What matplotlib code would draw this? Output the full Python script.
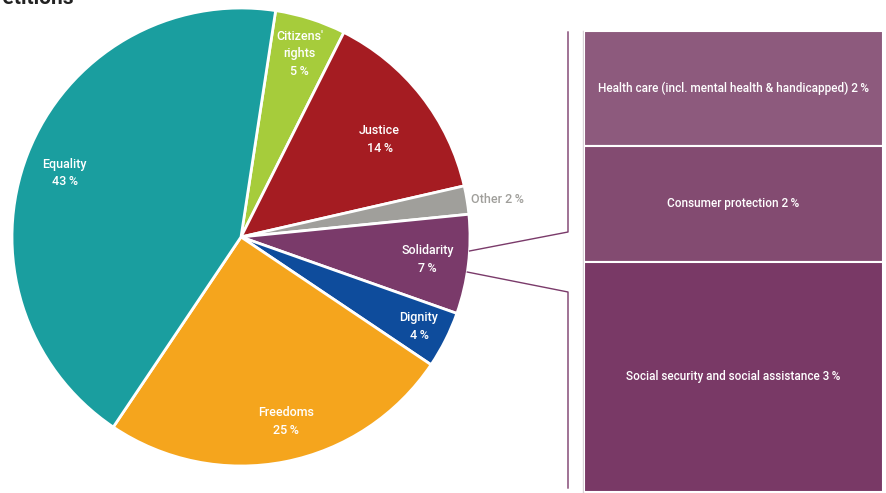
import numpy as np
import matplotlib.pyplot as plt

# Datos
categorias = ["Citizens'\nrights", "Justice", "Other", "Solidarity", "Dignity", "Freedoms", "Equality"]
valores = [5, 14, 2, 7, 4, 25, 43]
colores = ["#A6CC3B", "#A51C22", "#A09F9B", "#7A3A6A", "#0E4C9C", "#F5A51D", "#1A9E9F"]

# Desglose de Solidarity
sub_categorias = ["Health care (incl. mental health & handicapped)", "Consumer protection",
                  "Social security and social assistance"]
sub_valores = [2, 2, 3]
sub_alturas = [1, 1, 2]   # alturas relativas de las cajas en la imagen
sub_colores = ["#8D5A7D", "#834B71", "#793966"]

W, H = 886, 493
plt.rcParams["font.family"] = ["Roboto", "DejaVu Sans"]

fig = plt.figure(figsize=(W / 100, H / 100), dpi=100)
ax = fig.add_axes([0, 0, 1, 1])

centro = (241, H - 237)
radio = 229
wedges, _ = ax.pie(valores, colors=colores, startangle=81.3, counterclock=False,
                   center=centro, radius=radio,
                   wedgeprops=dict(edgecolor="white", linewidth=2))
ax.set_xlim(0, W)
ax.set_ylim(0, H)
ax.set_aspect("equal")
ax.axis("off")

# etiquetas dentro de cada porcion (distancia y ajuste de angulo)
dist = [0.84, 0.74, 1.13, 0.82, 0.87, 0.83, 0.82]
ajuste = [0, -3, -1, 0, 0, 2.5, 1.3]
for w, cat, v, d, da in zip(wedges, categorias, valores, dist, ajuste):
    ang = np.deg2rad((w.theta1 + w.theta2) / 2 + da)
    x = centro[0] + d * radio * np.cos(ang)
    y = centro[1] + d * radio * np.sin(ang)
    if cat == "Other":
        ax.text(x, y, f"{cat} {v}\u2009%", color="#A09F9B", ha="center", va="center",
                fontsize=9, fontweight="medium")
    else:
        ax.text(x, y, f"{cat}\n{v}\u2009%", color="white", ha="center", va="center",
                fontsize=9, fontweight="medium", linespacing=1.45)

# lineas de conexion hacia las cajas
lc = "#7A3A6A"
for a, (xb, yb, yend) in zip([-3.5, -8.8], [(568, H - 232, H - 32), (568, H - 292, H - 488)]):
    xa = centro[0] + radio * np.cos(np.deg2rad(a))
    ya = centro[1] + radio * np.sin(np.deg2rad(a))
    ax.plot([xa, xb, xb], [ya, yb, yend], color=lc, linewidth=1)

# cajas del desglose
box_top, box_bottom = 31, 492
ax2 = fig.add_axes([584 / W, (H - box_bottom) / H, 299 / W, (box_bottom - box_top) / H])
total = sum(sub_alturas)
base = 0
for cat, v, h, c in zip(sub_categorias, sub_valores, sub_alturas, sub_colores):
    ax2.bar(0.5, h, bottom=base, width=1, color=c, edgecolor="white", linewidth=1.5)
    ax2.text(0.5, base + h / 2, f"{cat} {v}\u2009%", color="white", ha="center", va="center",
             fontsize=8.5, fontweight="medium")
    base += h
ax2.set_xlim(0, 1)
ax2.set_ylim(total, 0)
ax2.axis("off")
ax.plot([583, 583], [H - box_bottom, H - box_top], color="#D9D3D8", linewidth=1)

# titulo cortado arriba, como en la imagen original
fig.text(-0.012, 1 - 4 / H, "Petitions", fontsize=15, fontweight="bold", color="#222222",
         va="baseline", ha="left")

fig.savefig("out.png", dpi=100)
